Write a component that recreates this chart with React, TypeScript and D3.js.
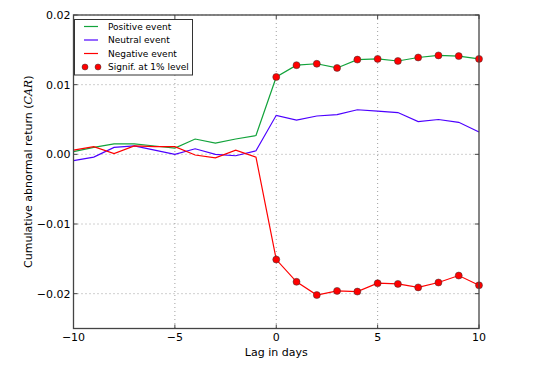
import React from "react";
import * as d3 from "d3";

const lags = [-10, -9, -8, -7, -6, -5, -4, -3, -2, -1, 0, 1, 2, 3, 4, 5, 6, 7, 8, 9, 10];
const positive = [0.0004, 0.001, 0.0015, 0.0015, 0.0012, 0.0009, 0.0022, 0.0016, 0.0022, 0.0027, 0.0111, 0.0128, 0.013, 0.0124, 0.0136, 0.0137, 0.0134, 0.0139, 0.0142, 0.0141, 0.0137];
const neutral = [-0.0009, -0.0004, 0.001, 0.0012, 0.0006, 0.0, 0.0008, 0.0, -0.0002, 0.0005, 0.0056, 0.0049, 0.0055, 0.0057, 0.0064, 0.0062, 0.006, 0.0047, 0.005, 0.0046, 0.0032];
const negative = [0.0006, 0.0011, 0.0001, 0.0012, 0.0011, 0.0011, -0.0001, -0.0005, 0.0006, -0.0004, -0.0151, -0.0183, -0.0202, -0.0196, -0.0197, -0.0185, -0.0186, -0.0191, -0.0184, -0.0174, -0.0188];
const signifLags = [0, 1, 2, 3, 4, 5, 6, 7, 8, 9, 10];
const xTicks = [-10, -5, 0, 5, 10];
const yTicks = [-0.02, -0.01, 0, 0.01, 0.02];
const legendLabels = ["Positive event", "Neutral event", "Negative event", "Signif. at 1% level"];

const W = 548, H = 366;
const L = 73.5, R = 479, T = 15, B = 328.5;
const GREEN = "#12a33b";
const BLUE = "#4d00ff";
const RED = "#ff0000";
const FONT = "DejaVu Sans, sans-serif";

export default function App() {
  const x = d3.scaleLinear().domain([-10, 10]).range([L, R]);
  const y = d3.scaleLinear().domain([-0.025, 0.02]).range([B, T]);
  const line = d3.line<number>().x((_, i) => x(lags[i])).y((v) => y(v));
  const fmtY = (v: number) => (v < 0 ? "\u2212" : "") + Math.abs(v).toFixed(2);
  const fmtX = (v: number) => (v < 0 ? "\u2212" : "") + Math.abs(v);
  const series = [
    { data: positive, color: GREEN },
    { data: neutral, color: BLUE },
    { data: negative, color: RED },
  ];
  const sigSeries = [positive, negative];
  const legX = 74.5, legY = 19.5, legW = 118, legH = 55.5;
  const rowY = [26.5, 40, 53.5, 67];
  return (
    <svg width={W} height={H} style={{ position: "absolute", left: 0, top: 0, background: "#fff" }} fontFamily={FONT}>
      <rect x={0} y={0} width={W} height={H} fill="#fff" />
      {/* grid */}
      {xTicks.slice(1, -1).map((t) => (
        <line key={"gx" + t} x1={x(t)} x2={x(t)} y1={T} y2={B} stroke="#888" strokeWidth={0.8} strokeDasharray="1,3" />
      ))}
      {yTicks.map((t) => (
        <line key={"gy" + t} x1={L} x2={R} y1={y(t)} y2={y(t)} stroke="#888" strokeWidth={0.8} strokeDasharray="1,3" />
      ))}
      {/* lines */}
      {series.map((s, i) => (
        <path key={"s" + i} d={line(s.data) || ""} fill="none" stroke={s.color} strokeWidth={1.2} />
      ))}
      {sigSeries.map((s, si) =>
        signifLags.map((lag) => {
          const idx = lags.indexOf(lag);
          return <circle key={"m" + si + "-" + lag} cx={x(lag)} cy={y(s[idx])} r={3.5} fill={RED} stroke="#333" strokeWidth={0.5} />;
        })
      )}
      {/* frame */}
      <rect x={L} y={T} width={R - L} height={B - T} fill="none" stroke="#444" strokeWidth={1.3} />
      {/* ticks */}
      {xTicks.map((t) => (
        <g key={"tx" + t}>
          <line x1={x(t)} x2={x(t)} y1={B} y2={B - 4} stroke="#444" />
          <line x1={x(t)} x2={x(t)} y1={T} y2={T + 4} stroke="#444" />
          <text x={x(t)} y={B + 12} fontSize={11} textAnchor="middle" fill="#000">{fmtX(t)}</text>
        </g>
      ))}
      {yTicks.map((t) => (
        <g key={"ty" + t}>
          <line x1={L} x2={L + 4} y1={y(t)} y2={y(t)} stroke="#444" />
          <line x1={R} x2={R - 4} y1={y(t)} y2={y(t)} stroke="#444" />
          <text x={L - 3} y={y(t) + 4} fontSize={11} textAnchor="end" fill="#000">{fmtY(t)}</text>
        </g>
      ))}
      <text x={(L + R) / 2} y={356} fontSize={11} textAnchor="middle" fill="#000">Lag in days</text>
      <text transform={`translate(32,${(T + B) / 2}) rotate(-90)`} fontSize={11} textAnchor="middle" fill="#000">
        Cumulative abnormal return (<tspan fontStyle="italic" fontFamily="DejaVu Serif, serif">CAR</tspan>)
      </text>
      {/* legend */}
      <rect x={legX} y={legY} width={legW} height={legH} fill="#fff" stroke="#333" strokeWidth={1} />
      {legendLabels.map((lab, i) => (
        <g key={"l" + i}>
          {i < 3 ? (
            <line x1={84} x2={98} y1={rowY[i]} y2={rowY[i]} stroke={series[i].color} strokeWidth={1.2} />
          ) : (
            <g>
              <circle cx={85} cy={rowY[i]} r={3} fill={RED} stroke="#333" strokeWidth={0.5} />
              <circle cx={98} cy={rowY[i]} r={3} fill={RED} stroke="#333" strokeWidth={0.5} />
            </g>
          )}
          <text x={108} y={rowY[i] + 3.2} fontSize={9} fill="#000">{lab}</text>
        </g>
      ))}
    </svg>
  );
}
